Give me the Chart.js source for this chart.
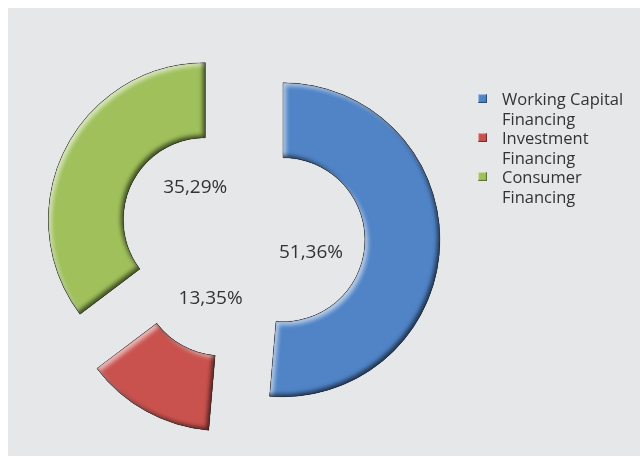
<!DOCTYPE html>
<html>
<head>
<meta charset="utf-8">
<script src="https://cdn.jsdelivr.net/npm/chart.js@4"></script>
<style>
  html, body { margin: 0; padding: 0; background: #fff; }
  #wrap { position: relative; width: 641px; height: 457px; overflow: hidden; }
  #panel { position: absolute; left: 8px; top: 8px; right: 1px; bottom: 1px; background: #e6e7e9; }
  #box { position: absolute; left: 0; top: 0; width: 641px; height: 457px; }
  #legend { position: absolute; left: 478px; top: 89px; font: 16.5px "Open Sans", sans-serif; color: #333;
            line-height: 19.5px; }
  #legend .item { position: relative; padding-left: 24px; width: 140px; }
  #legend .mark { position: absolute; left: 0; top: 5px; width: 9px; height: 9px;
                  box-shadow: inset -1px -1px 1px rgba(0,0,0,0.45), inset 1px 1px 1px rgba(255,255,255,0.5); }
</style>
</head>
<body>
<div id="wrap">
  <div id="panel"></div>
  <div id="box"><canvas id="pie"></canvas></div>
  <div id="legend"></div>
</div>
<script>
const categories = ['Working Capital Financing', 'Investment Financing', 'Consumer Financing'];
const shares     = [51.36, 13.35, 35.29];
const colors     = ['#5084c7', '#c9524e', '#9fc05b'];

const fmt = v => v.toFixed(2).replace('.', ',') + '%';

// pull each slice away from the centre along its mid angle
const explode = {
    id: 'explode',
    afterDatasetUpdate(chart, args, opts) {
        args.meta.data.forEach(a => {
            const mid = (a.startAngle + a.endAngle) / 2;
            a.x += Math.cos(mid) * opts.distance;
            a.y += Math.sin(mid) * opts.distance;
        });
    }
};

function slicePath(ctx, a) {
    ctx.moveTo(a.x + Math.cos(a.startAngle) * a.outerRadius, a.y + Math.sin(a.startAngle) * a.outerRadius);
    ctx.arc(a.x, a.y, a.outerRadius, a.startAngle, a.endAngle);
    ctx.arc(a.x, a.y, a.innerRadius, a.endAngle, a.startAngle, true);
    ctx.closePath();
}

function innerShadow(ctx, a, color, dx, dy, blur) {
    ctx.save();
    ctx.beginPath();
    slicePath(ctx, a);
    ctx.clip();
    ctx.beginPath();
    ctx.rect(-2000, -2000, 5000, 5000);
    slicePath(ctx, a);
    ctx.shadowColor = color;
    ctx.shadowBlur = blur;
    ctx.shadowOffsetX = dx;
    ctx.shadowOffsetY = dy;
    ctx.fillStyle = '#000';
    ctx.fill('evenodd');
    ctx.restore();
}

// rounded bevel: light on the upper-left edges, dark on the lower-right
const bevel = {
    id: 'bevel',
    afterDatasetDraw(chart, args) {
        const ctx = chart.ctx;
        args.meta.data.forEach(a => {
            innerShadow(ctx, a, 'rgba(255,255,255,0.6)', 3, 3, 4);
            innerShadow(ctx, a, 'rgba(0,0,0,0.6)', -2.5, -2.5, 4);
            ctx.save();
            ctx.beginPath();
            slicePath(ctx, a);
            ctx.strokeStyle = 'rgba(0,0,0,0.2)';
            ctx.lineWidth = 1;
            ctx.stroke();
            ctx.restore();
        });
    }
};

const valueLabels = {
    id: 'valueLabels',
    afterDraw(chart, args, opts) {
        const ctx = chart.ctx;
        const ca = chart.chartArea;
        const cx = (ca.left + ca.right) / 2, cy = (ca.top + ca.bottom) / 2;
        const meta = chart.getDatasetMeta(0);
        ctx.save();
        ctx.font = opts.font;
        ctx.fillStyle = opts.color;
        ctx.textAlign = 'center';
        ctx.textBaseline = 'middle';
        meta.data.forEach((a, i) => {
            const mid = (a.startAngle + a.endAngle) / 2;
            const n = opts.nudge[i];
            ctx.fillText(fmt(shares[i]), cx + Math.cos(mid) * opts.radius + n[0],
                                         cy + Math.sin(mid) * opts.radius + n[1]);
        });
        ctx.restore();
    }
};

new Chart(document.getElementById('pie'), {
    type: 'doughnut',
    data: {
        labels: categories,
        datasets: [{ data: shares, backgroundColor: colors, borderWidth: 0 }]
    },
    options: {
        responsive: true,
        maintainAspectRatio: false,
        animation: false,
        radius: 157,
        cutout: '52.2%',
        layout: { padding: { left: 0, right: 157, top: 19, bottom: 0 } },
        plugins: {
            legend: { display: false },
            tooltip: { enabled: false },
            explode: { distance: 41 },
            valueLabels: { font: '19px "Open Sans"', color: '#333', radius: 69,
                           nudge: [[0, 12], [2, 0], [15, -20]] }
        }
    },
    plugins: [explode, bevel, valueLabels]
});

const legend = document.getElementById('legend');
categories.forEach((c, i) => {
    const item = document.createElement('div');
    item.className = 'item';
    const mark = document.createElement('span');
    mark.className = 'mark';
    mark.style.background = colors[i];
    item.appendChild(mark);
    item.appendChild(document.createTextNode(c));
    legend.appendChild(item);
});
</script>
</body>
</html>
